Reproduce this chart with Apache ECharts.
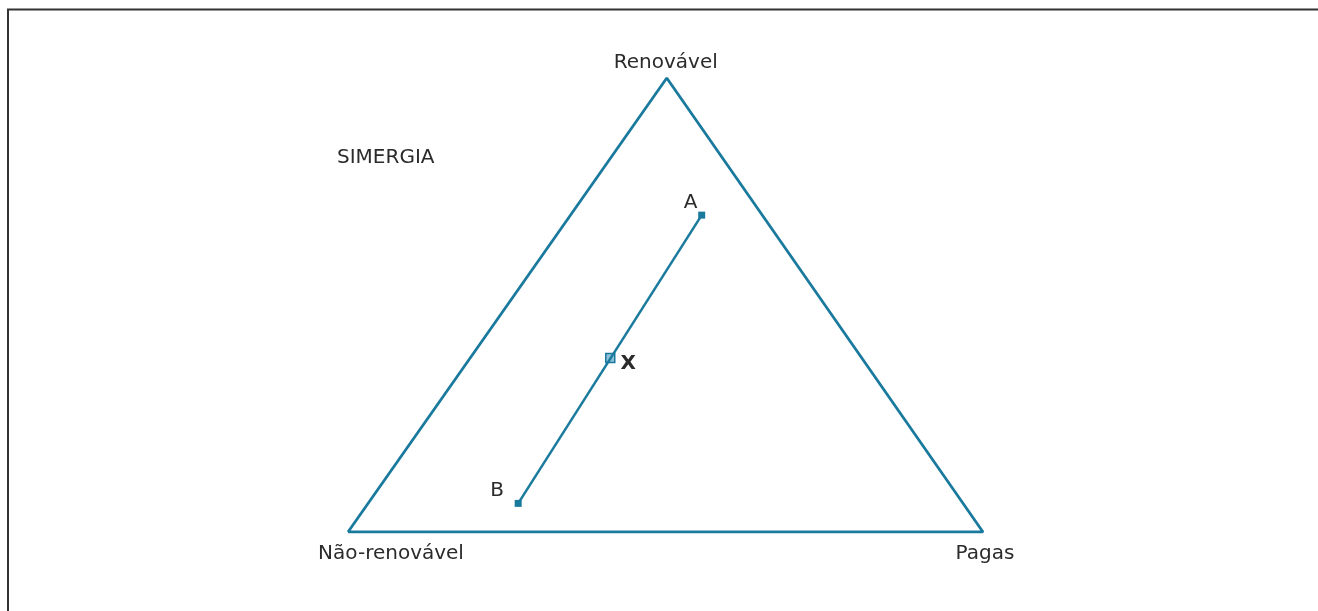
<!DOCTYPE html>
<html>
<head>
<meta charset="utf-8">
<script src="https://cdn.jsdelivr.net/npm/echarts@6/dist/echarts.min.js"></script>
<style>
  html, body { margin: 0; padding: 0; background: #fff; }
  #chart { width: 1318px; height: 611px; }
</style>
</head>
<body>
<div id="chart"></div>
<script>
// vertices of the triangle (x: 0..100 along the base, y: 0..100 height)
const vertexNames = ['Não-renovável', 'Renovável', 'Pagas']
const vertexX = [0, 50.2, 100]
const vertexY = [0, 100, 0]

// points on the segment
const pointNames = ['A', 'X', 'B']
const pointX = [55.7, 41.3, 26.8]
const pointY = [69.8, 38.3, 6.3]

const blue = '#1a7a9e'
const textColor = '#2b2b2b'
const font = 'DejaVu Sans'

const chart = echarts.init(document.getElementById('chart'))

const triangle = vertexX.map((x, i) => [x, vertexY[i]])
triangle.push(triangle[0])

// label offsets for the vertex names
const vertexLabel = [
  { offset: [43, 22] },
  { offset: [-1, -15] },
  { offset: [2, 22] }
]
const pointLabel = [
  { offset: [-11, -12], fontWeight: 'normal' },
  { offset: [18, 6], fontWeight: 'bold' },
  { offset: [-21, -13], fontWeight: 'normal' }
]

chart.setOption({
  animation: false,
  grid: { left: 348, right: 335, top: 78, bottom: 79 },
  xAxis: { type: 'value', min: 0, max: 100, show: false },
  yAxis: { type: 'value', min: 0, max: 100, show: false },
  graphic: [
    {
      type: 'polyline',
      shape: { points: [[8, 620], [8, 9.5], [1320, 9.5]] },
      style: { stroke: '#333', lineWidth: 2, fill: null }
    },
    {
      type: 'text',
      left: 337,
      top: 148,
      style: { text: 'SIMERGIA', fill: textColor, font: '20px "DejaVu Sans"' }
    }
  ],
  series: [
    {
      type: 'line',
      data: triangle,
      symbol: 'none',
      lineStyle: { color: blue, width: 2.8 }
    },
    {
      type: 'line',
      data: [[pointX[0], pointY[0]], [pointX[2], pointY[2]]],
      symbol: 'none',
      lineStyle: { color: blue, width: 2.5 }
    },
    {
      type: 'scatter',
      symbolSize: 0.1,
      itemStyle: { opacity: 1 },
      data: vertexX.map((x, i) => ({
        value: [x, vertexY[i]],
        name: vertexNames[i],
        label: {
          show: true,
          position: 'inside',
          offset: vertexLabel[i].offset,
          formatter: vertexNames[i],
          color: textColor,
          fontFamily: font,
          fontSize: 20
        }
      }))
    },
    {
      type: 'scatter',
      symbol: 'rect',
      data: pointX.map((x, i) => ({
        value: [x, pointY[i]],
        name: pointNames[i],
        symbolSize: i === 1 ? 9 : 7,
        itemStyle: i === 1
          ? { color: '#8fc0d8', borderColor: blue, borderWidth: 1.5, opacity: 1 }
          : { color: blue, opacity: 1 },
        label: {
          show: true,
          position: 'inside',
          offset: pointLabel[i].offset,
          formatter: pointNames[i],
          color: textColor,
          fontFamily: font,
          fontSize: 20,
          fontWeight: pointLabel[i].fontWeight
        }
      }))
    }
  ]
})
</script>
</body>
</html>
